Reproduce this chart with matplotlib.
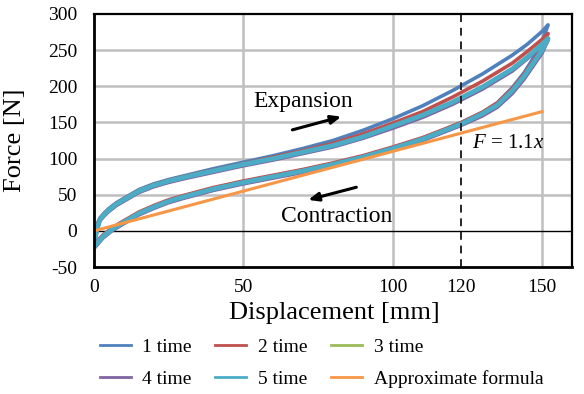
import matplotlib
matplotlib.use("Agg")
import matplotlib.pyplot as plt
from matplotlib.lines import Line2D

plt.rcParams['font.family'] = ['Liberation Serif', 'DejaVu Serif']
plt.rcParams['mathtext.fontset'] = 'custom'
plt.rcParams['mathtext.rm'] = 'Liberation Serif'
plt.rcParams['mathtext.it'] = 'Liberation Serif:italic'
plt.rcParams['axes.unicode_minus'] = False

# ---- data ----
series_labels = ["1 time", "2 time", "3 time", "4 time", "5 time"]
series_colors = ["#4F81BD", "#C0504D", "#9BBB59", "#8064A2", "#4BACC6"]

x_exp = [0.5, 1.2, 2, 3.5, 5, 7.5, 10, 15, 20, 25, 30, 40, 50, 60, 70, 80, 90, 100, 110, 120, 130, 140, 145, 150, 152]
exp_1 = [3, 11, 18, 25, 31, 39, 45, 57, 65, 71, 76, 86, 95, 104, 114, 125, 139, 155, 173, 194, 217, 243, 258, 276, 285]
exp_2 = [0, 9, 17, 24, 30, 38, 44, 56, 64, 70, 75, 84, 93, 102, 111, 121, 134, 149, 165, 185, 207, 232, 248, 265, 273]
exp_3 = [-6, 5, 15, 22, 28, 36, 42, 54, 62, 68, 73, 82, 91, 99, 108, 117, 129, 144, 159, 177, 198, 224, 241, 259, 267]
exp_4 = [-10, 3, 14, 21, 27, 35, 41, 53, 61, 67, 72, 81, 90, 98, 107, 116, 128, 142, 157, 175, 196, 221, 238, 256, 264]
exp_5 = [-8, 5, 16, 23, 29, 37, 43, 55, 63, 69, 74, 83, 92, 100, 109, 118, 130, 145, 160, 178, 199, 224, 240, 258, 266]

x_con = [152, 150, 148, 146, 144, 140, 135, 130, 123, 115, 110, 100, 90, 80, 70, 60, 50, 40, 30, 25, 20, 15, 10, 6, 3, 0.5]
con_1 = [285, 262, 246, 232, 219, 198, 177, 164, 150, 136, 128, 115, 103, 93, 84, 76, 68, 59, 48, 42, 34, 25, 13, 3, -6, -16]
con_2 = [273, 254, 241, 229, 217, 197, 177, 164, 150, 137, 129, 116, 104, 94, 85, 77, 69, 60, 49, 43, 35, 26, 14, 4, -6, -17]
con_3 = [267, 249, 237, 225, 213, 193, 173, 161, 147, 134, 126, 113, 101, 91, 82, 74, 66, 57, 46, 40, 32, 23, 11, 1, -9, -21]
con_4 = [264, 246, 234, 222, 210, 190, 171, 159, 146, 133, 125, 112, 100, 90, 81, 73, 65, 56, 45, 39, 31, 22, 10, 0, -10, -22]
con_5 = [266, 250, 238, 226, 214, 194, 174, 162, 148, 135, 127, 114, 102, 92, 83, 75, 67, 58, 47, 41, 33, 24, 12, 2, -8, -20]

formula_x = [0, 150]
formula_y = [0, 165]
formula_label = "Approximate formula"
formula_color = "#F79646"

x_ticks = [0, 50, 100, 122.8, 150]
x_tick_labels = ["0", "50", "100", "120", "150"]
y_ticks = [-50, 0, 50, 100, 150, 200, 250, 300]
dashed_x = 122.8

exps = [exp_1, exp_2, exp_3, exp_4, exp_5]
cons = [con_1, con_2, con_3, con_4, con_5]
widths = [2.6, 2.6, 2.6, 2.6, 3.4]

# ---- figure ----
fig = plt.figure(figsize=(5.84, 3.94), dpi=100)
ax = fig.add_axes([94/584, 1-267/394, (572-94)/584, (267-14)/394])
ax.set_xlim(0, 160)
ax.set_ylim(-50, 300)

# grid
for yv in [50, 100, 150, 200, 250]:
    ax.axhline(yv, color="#BFBFBF", lw=1.8, zorder=0)
for xv in [50, 100, 150]:
    ax.axvline(xv, color="#BFBFBF", lw=1.8, zorder=0)
ax.axhline(0, color="black", lw=1.0, zorder=1)

line_handles = []
for i in range(5):
    xs = x_exp + x_con
    ys = exps[i] + cons[i]
    ax.plot(xs, ys, color=series_colors[i], lw=widths[i], solid_joinstyle='round', zorder=2 + i)
    line_handles.append(Line2D([], [], color=series_colors[i], lw=2))
ax.plot(formula_x, formula_y, color=formula_color, lw=2.2, zorder=8)
line_handles.append(Line2D([], [], color=formula_color, lw=2))
all_labels = series_labels + [formula_label]

ax.axvline(dashed_x, color="#262626", lw=1.4, ls=(0, (4, 3)), zorder=9)

# annotations
ax.text(70.1, 178.8, "Expansion", fontsize=17, ha="center", va="center", zorder=10)
ax.text(81.2, 19.8, "Contraction", fontsize=17, ha="center", va="center", zorder=10)
ax.text(138.5, 121, r"$F$ = 1.1$x$", fontsize=15, ha="center", va="center", zorder=10)
ax.annotate("", xy=(83.7, 159), xytext=(65.5, 138.7),
            arrowprops=dict(arrowstyle="-|>,head_length=0.6,head_width=0.25", color="black", lw=2.2), zorder=10)
ax.annotate("", xy=(70.8, 41.9), xytext=(88.7, 61.3),
            arrowprops=dict(arrowstyle="-|>,head_length=0.6,head_width=0.25", color="black", lw=2.2), zorder=10)

# axes styling
for s in ["left", "bottom"]:
    ax.spines[s].set_linewidth(2.0)
for s in ["top", "right"]:
    ax.spines[s].set_linewidth(1.6)
for s in ax.spines.values():
    s.set_zorder(11)

ax.set_xticks(x_ticks)
ax.set_xticklabels(x_tick_labels)
ax.set_yticks(y_ticks)
ax.tick_params(axis="both", length=0, labelsize=14)
ax.tick_params(axis="y", pad=12)
ax.tick_params(axis="x", pad=9)

ax.set_xlabel("Displacement [mm]", fontsize=19)
ax.set_ylabel("Force [N]", fontsize=19)
ax.xaxis.set_label_coords(0.502, (267-302)/253, transform=ax.transAxes)
ax.yaxis.set_label_coords((26-94)/478, 0.5, transform=ax.transAxes)

# legend filled row-wise (matplotlib fills column-wise)
order = [0, 3, 1, 4, 2, 5]
fig.legend(handles=[line_handles[k] for k in order],
           labels=[all_labels[k] for k in order],
           ncol=3, loc="upper left", bbox_to_anchor=(86/584, 1-325/394),
           frameon=False, fontsize=14, handlelength=1.6, handletextpad=0.6,
           columnspacing=1.2, labelspacing=0.72, borderpad=0.2)

fig.savefig("out.png", dpi=100)
